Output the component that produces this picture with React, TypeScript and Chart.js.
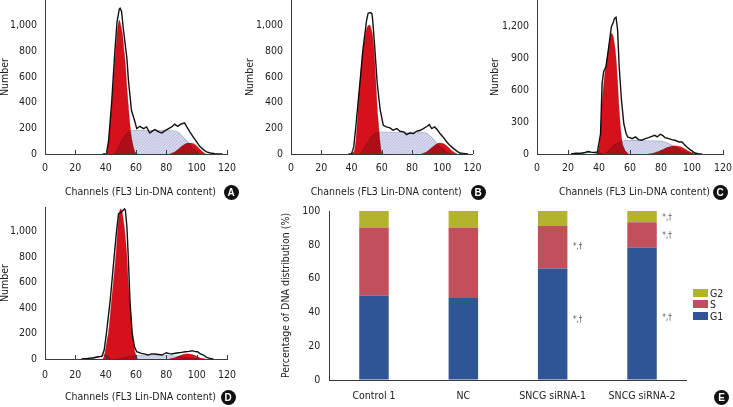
import React, { useEffect, useRef } from 'react';
import { Chart, registerables } from 'chart.js';

Chart.register(...registerables);

const FONT = "'DejaVu Sans Condensed', 'Liberation Sans Narrow', sans-serif";
const FS = 10.5;
const TEXT = '#222';
const AXIS = '#3a3a3a';
const RED = '#d5121b';
const BLUE = '#2f5597';
const ROSE = '#c0505c';
const OLIVE = '#b4b42c';

// ---------- Panel A (Control 1) ----------
const aLineCh = [38, 40.5, 42, 44, 46, 47.5, 49, 49.5, 50.5, 51.5, 54, 55, 57, 59, 60.5, 62.5, 65, 67, 69, 71, 72.5, 75, 77, 79, 81.5, 83.5, 85.5, 87.5, 89.5, 92, 93.5, 95.5, 98, 100, 102, 104.5, 106.5, 109, 112, 114.5, 117];
const aLineN = [0, 0, 110, 410, 790, 1030, 1130, 1136, 1110, 990, 745, 576, 341, 263, 198, 216, 198, 211, 164, 180, 190, 172, 164, 180, 198, 211, 232, 216, 232, 242, 211, 172, 128, 94, 60, 34, 16, 8, 3, 0, 0];
const aG1Ch = [40, 41, 42, 43, 44, 45, 46, 47, 48, 49, 50, 51, 52, 53, 54, 55, 56, 57, 58, 59, 60, 61];
const aG1N = [0, 15, 110, 240, 370, 540, 700, 860, 990, 1044, 1000, 940, 820, 700, 520, 370, 230, 130, 70, 25, 5, 0];
const aSCh = [46, 48, 50, 52, 54, 56, 58, 62, 66, 70, 74, 78, 82, 86, 88, 90, 92, 94, 96, 98, 100, 102];
const aSN = [0, 40, 90, 130, 160, 178, 184, 186, 184, 182, 182, 184, 184, 178, 168, 145, 120, 95, 62, 35, 13, 0];
const aG2Ch = [82, 84, 86, 88, 90, 92, 94, 96, 98, 100, 102, 104, 106];
const aG2N = [0, 8, 20, 38, 58, 75, 85, 86, 80, 62, 38, 15, 0];

// ---------- Panel B (NC) ----------
const bLineCh = [38, 40, 41.5, 43, 44.5, 46, 47.5, 49, 50, 51, 52.5, 53.5, 54, 55.5, 57, 59, 61, 63, 65.5, 67.5, 70, 72, 74.5, 76.5, 78.5, 81, 83, 85.5, 87.5, 90, 91.5, 93, 95, 97, 98.5, 100.5, 103, 105, 107.5, 109.5, 111.5, 115, 117];
const bLineN = [0, 0, 55, 230, 420, 610, 810, 950, 1044, 1097, 1102, 1093, 1044, 810, 550, 341, 224, 211, 203, 185, 198, 177, 172, 151, 164, 159, 177, 185, 198, 216, 229, 198, 211, 185, 159, 133, 94, 68, 42, 24, 8, 3, 0];
const bG1Ch = [40, 41, 42, 43, 44, 45, 46, 47, 48, 49, 50, 51, 52, 53, 54, 55, 56, 57, 58, 59, 60, 61];
const bG1N = [0, 10, 30, 110, 280, 470, 620, 740, 840, 920, 975, 1000, 1005, 975, 920, 790, 580, 360, 210, 80, 10, 0];
const bSCh = [46, 48, 50, 52, 54, 56, 58, 60, 66, 72, 78, 84, 88, 90, 92, 94, 96, 98, 100, 102, 104, 106];
const bSN = [0, 40, 80, 115, 145, 162, 170, 172, 170, 168, 170, 172, 168, 160, 140, 118, 90, 65, 42, 22, 6, 0];
const bG2Ch = [86, 88, 90, 92, 94, 96, 98, 100, 102, 104, 106, 108, 110];
const bG2N = [0, 8, 20, 38, 58, 76, 86, 84, 72, 52, 30, 12, 0];

// ---------- Panel C (SNCG siRNA-1) ----------
const cLineCh = [22, 25, 28, 31, 33, 35, 37, 39, 41, 42, 43, 44.5, 46, 48, 49, 50, 51, 52, 53, 54.5, 56, 57.5, 58.5, 61.5, 63.5, 65.5, 67.5, 70, 72, 74, 76, 77.5, 79.5, 81, 82.5, 85, 87, 89, 91.5, 93.5, 95.5, 98, 100, 102, 104, 106.5];
const cLineN = [0, 8, 6, 14, 24, 18, 14, 19, 192, 662, 771, 820, 975, 1194, 1225, 1272, 1282, 1163, 820, 504, 285, 192, 160, 144, 160, 135, 129, 144, 154, 166, 175, 160, 185, 175, 154, 144, 135, 129, 113, 113, 82, 50, 28, 9, 3, 0];
const cG1Ch = [38, 39, 40, 41, 42, 43, 44, 45, 46, 47, 48, 49, 50, 51, 52, 53, 54, 55, 56, 57, 58, 59];
const cG1N = [0, 15, 60, 200, 480, 650, 780, 880, 980, 1070, 1130, 1110, 1030, 900, 680, 420, 230, 110, 60, 30, 15, 0];
const cSCh = [44, 46, 48, 50, 52, 54, 56, 58, 62, 66, 70, 74, 78, 80, 84, 88, 92, 96, 100, 102];
const cSN = [0, 30, 60, 85, 105, 118, 125, 128, 128, 126, 124, 124, 124, 120, 105, 75, 40, 15, 3, 0];
const cG2Ch = [72, 74, 76, 78, 80, 82, 84, 86, 88, 90, 92, 94, 96, 98, 100, 102, 104];
const cG2N = [0, 5, 12, 22, 35, 48, 60, 70, 76, 76, 70, 58, 42, 25, 10, 2, 0];
const cDebCh = [22, 26, 30, 34, 37, 40, 42];
const cDebN = [0, 6, 10, 14, 12, 5, 0];

// ---------- Panel D (SNCG siRNA-2) ----------
const dLineCh = [24, 28, 32, 35, 37.5, 39, 40.5, 43, 45, 47, 48.5, 50.5, 51.5, 52.5, 53, 54, 55, 56, 57.5, 59, 60.5, 63.5, 66, 68, 70, 72.5, 75, 77, 80, 82, 83.5, 86, 88, 90, 92.5, 95, 97, 99, 100.5, 102, 104.5, 106.5, 109, 111];
const dLineN = [0, 4, 10, 18, 20, 70, 200, 461, 721, 982, 1138, 1151, 1164, 1175, 1164, 1034, 773, 461, 200, 96, 57, 44, 38, 31, 40, 39, 35, 31, 49, 42, 39, 45, 49, 52, 57, 60, 65, 58, 57, 44, 31, 13, 5, 0];
const dG1Ch = [38, 39, 40, 41, 42, 43, 44, 45, 46, 47, 48, 49, 50, 51, 52, 53, 54, 55, 56, 57, 58, 59, 60, 61];
const dG1N = [0, 20, 80, 150, 220, 340, 470, 590, 710, 850, 1020, 1140, 1175, 1140, 1060, 950, 800, 580, 420, 280, 150, 70, 30, 0];
const dSCh = [48, 52, 56, 60, 66, 72, 80, 86, 90, 94, 98, 102];
const dSN = [0, 10, 22, 28, 30, 30, 28, 24, 18, 10, 4, 0];
const dG2Ch = [82, 84, 86, 88, 90, 92, 94, 96, 98, 100, 102, 104, 106];
const dG2N = [0, 5, 12, 22, 32, 38, 40, 38, 32, 22, 10, 3, 0];
const dDebCh = [30, 33, 36, 39, 41, 43];
const dDebN = [0, 8, 18, 30, 20, 0];

// ---------- Panel E (stacked distribution) ----------
const groups = ['Control 1', 'NC', 'SNCG siRNA-1', 'SNCG siRNA-2'];
const g1Pct = [50, 48.5, 66, 78.3];
const sPct = [40.3, 41.8, 25.1, 15];
const g2Pct = [9.7, 9.7, 8.9, 6.7];
const markGroup = [2, 2, 3, 3, 3];
const markValue = [78.5, 35.5, 96, 85, 36.5];
const markText = '*,\u2020';

// ---------- tick labels ----------
const histXTicks = [0, 20, 40, 60, 80, 100, 120];
const countTicks = [0, 200, 400, 600, 800, 1000];
const countTicksC = [0, 300, 600, 900, 1200];
const pctTicks = [0, 20, 40, 60, 80, 100];

function pts(xs: number[], ys: number[]) {
  return xs.map((x, i) => ({ x, y: ys[i] }));
}

function makeHatch(ctx: CanvasRenderingContext2D) {
  const c = document.createElement('canvas');
  c.width = 3;
  c.height = 3;
  const g = c.getContext('2d')!;
  g.fillStyle = '#d6d8ee';
  g.fillRect(0, 0, 3, 3);
  g.fillStyle = '#bec2e0';
  g.fillRect(0, 2, 1, 1);
  g.fillRect(1, 1, 1, 1);
  g.fillRect(2, 0, 1, 1);
  return ctx.createPattern(c, 'repeat');
}

const multiplyPlugin = {
  id: 'multiplyFill',
  beforeDatasetsDraw(chart: any) {
    chart.ctx.save();
    chart.ctx.globalCompositeOperation = 'multiply';
  },
  afterDatasetsDraw(chart: any) {
    chart.ctx.restore();
  },
};

const innerTicksPlugin = {
  id: 'innerTicks',
  afterDraw(chart: any) {
    const { ctx, chartArea } = chart;
    const x = chart.scales.x;
    ctx.save();
    ctx.strokeStyle = AXIS;
    ctx.lineWidth = 1;
    x.ticks.forEach((t: any) => {
      if (t.value === 0) return;
      const px = Math.round(x.getPixelForValue(t.value)) + 0.5;
      ctx.beginPath();
      ctx.moveTo(px, chartArea.bottom);
      ctx.lineTo(px, chartArea.bottom - 4);
      ctx.stroke();
    });
    ctx.restore();
  },
};

type Series = [number[], number[]];
type HistCfg = {
  left: number; top: number; width: number; height: number;
  l: number; r: number; t: number; b: number;
  yMax: number; yTicks: number[];
  line: Series; g1: Series; s: Series; g2: Series; debris?: Series;
  xTickPad: number; xTitlePad: number;
};

const panels: HistCfg[] = [
  { left: 0, top: 0, width: 245, height: 200, l: 45, r: 227, t: 0, b: 154, yMax: 1200, yTicks: countTicks,
    line: [aLineCh, aLineN], g1: [aG1Ch, aG1N], s: [aSCh, aSN], g2: [aG2Ch, aG2N], xTickPad: 8, xTitlePad: 1 },
  { left: 245, top: 0, width: 245, height: 200, l: 46, r: 227.5, t: 0, b: 154, yMax: 1200, yTicks: countTicks,
    line: [bLineCh, bLineN], g1: [bG1Ch, bG1N], s: [bSCh, bSN], g2: [bG2Ch, bG2N], xTickPad: 8, xTitlePad: 1 },
  { left: 490, top: 0, width: 243, height: 200, l: 47, r: 233, t: 0, b: 154, yMax: 1444, yTicks: countTicksC,
    line: [cLineCh, cLineN], g1: [cG1Ch, cG1N], s: [cSCh, cSN], g2: [cG2Ch, cG2N], debris: [cDebCh, cDebN], xTickPad: 8, xTitlePad: 1 },
  { left: 0, top: 195, width: 245, height: 212, l: 45, r: 227, t: 12, b: 164, yMax: 1190, yTicks: countTicks,
    line: [dLineCh, dLineN], g1: [dG1Ch, dG1N], s: [dSCh, dSN], g2: [dG2Ch, dG2N], debris: [dDebCh, dDebN], xTickPad: 9.5, xTitlePad: 3 },
];

function HistPanel({ cfg }: { cfg: HistCfg }) {
  const ref = useRef<HTMLCanvasElement>(null);
  useEffect(() => {
    const canvas = ref.current!;
    const ctx = canvas.getContext('2d')!;
    const hatch = makeHatch(ctx);
    const font = { family: FONT, size: FS };
    const datasets: any[] = [
      { label: 'DNA', data: pts(cfg.line[0], cfg.line[1]), borderColor: '#111', borderWidth: 1.4, pointRadius: 0, fill: false, tension: 0 },
      { label: 'G1', data: pts(cfg.g1[0], cfg.g1[1]), borderColor: 'rgba(160,20,25,0.5)', borderWidth: 0.6, backgroundColor: RED, fill: 'origin', pointRadius: 0, cubicInterpolationMode: 'monotone' },
      { label: 'G2', data: pts(cfg.g2[0], cfg.g2[1]), borderColor: 'rgba(160,20,25,0.5)', borderWidth: 0.6, backgroundColor: RED, fill: 'origin', pointRadius: 0, cubicInterpolationMode: 'monotone' },
      { label: 'S', data: pts(cfg.s[0], cfg.s[1]), borderColor: '#c4c6d6', borderWidth: 0.8, backgroundColor: hatch, fill: 'origin', pointRadius: 0, cubicInterpolationMode: 'monotone' },
    ];
    if (cfg.debris) {
      datasets.push({ label: 'Debris', data: pts(cfg.debris[0], cfg.debris[1]), borderColor: '#3a9c8e', borderWidth: 1, pointRadius: 0, fill: false, cubicInterpolationMode: 'monotone' });
    }
    const chart = new Chart(canvas, {
      type: 'line',
      data: { datasets },
      options: {
        animation: false,
        responsive: false,
        maintainAspectRatio: false,
        events: [],
        layout: { padding: { left: 0, top: cfg.t, right: cfg.width - cfg.r, bottom: 0 } },
        plugins: { legend: { display: false }, tooltip: { enabled: false } },
        scales: {
          x: {
            type: 'linear', min: 0, max: 120,
            afterBuildTicks: (ax: any) => { ax.ticks = histXTicks.map((v) => ({ value: v })); },
            ticks: { font, color: TEXT, padding: cfg.xTickPad, maxRotation: 0, autoSkip: false },
            grid: { drawOnChartArea: false, drawTicks: false },
            border: { color: AXIS, width: 1 },
            title: { display: true, text: '   Channels (FL3 Lin-DNA content)', font, color: TEXT, padding: { top: 0, bottom: cfg.xTitlePad } },
            afterFit: (s: any) => { s.height = cfg.height - cfg.b; s.paddingLeft = 0; s.paddingRight = 0; },
          },
          y: {
            type: 'linear', min: 0, max: cfg.yMax,
            afterBuildTicks: (ax: any) => { ax.ticks = cfg.yTicks.map((v) => ({ value: v })); },
            ticks: { font, color: TEXT, padding: 8, autoSkip: false, callback: (v: any) => Number(v).toLocaleString('en-US') },
            grid: { drawOnChartArea: false, drawTicks: false },
            border: { color: AXIS, width: 1 },
            title: { display: true, text: 'Number', font, color: TEXT, padding: { top: -1.5, bottom: 0 } },
            afterFit: (s: any) => { s.width = cfg.l; s.paddingTop = 0; s.paddingBottom = 0; },
          },
        },
      } as any,
      plugins: [multiplyPlugin, innerTicksPlugin],
    });
    return () => chart.destroy();
  }, [cfg]);
  return (
    <canvas
      ref={ref}
      width={cfg.width}
      height={cfg.height}
      style={{ position: 'absolute', left: cfg.left, top: cfg.top, width: cfg.width, height: cfg.height }}
    />
  );
}

const markPlugin = {
  id: 'marks',
  afterDatasetsDraw(chart: any) {
    const { ctx } = chart;
    const x = chart.scales.x;
    const y = chart.scales.y;
    ctx.save();
    ctx.fillStyle = '#555';
    ctx.font = `8px ${FONT}`;
    ctx.textAlign = 'center';
    ctx.textBaseline = 'middle';
    markGroup.forEach((g, i) => {
      ctx.fillText(markText, x.getPixelForValue(g) + 25, y.getPixelForValue(markValue[i]));
    });
    ctx.restore();
  },
};

function BarPanel() {
  const ref = useRef<HTMLCanvasElement>(null);
  const W = 473;
  const H = 212;
  useEffect(() => {
    const font = { family: FONT, size: FS };
    const common = { barPercentage: 0.33, categoryPercentage: 1, borderWidth: 0 };
    const chart = new Chart(ref.current!, {
      type: 'bar',
      data: {
        labels: groups,
        datasets: [
          { label: 'G1', data: g1Pct, backgroundColor: BLUE, ...common },
          { label: 'S', data: sPct, backgroundColor: ROSE, ...common },
          { label: 'G2', data: g2Pct, backgroundColor: OLIVE, ...common },
        ],
      },
      options: {
        animation: false,
        responsive: false,
        maintainAspectRatio: false,
        events: [],
        layout: { padding: { left: 0, top: 16, right: W - 426.7, bottom: 0 } },
        plugins: { legend: { display: false }, tooltip: { enabled: false } },
        scales: {
          x: {
            stacked: true,
            ticks: { font, color: TEXT, padding: 9.5, maxRotation: 0, autoSkip: false },
            grid: { display: true, drawOnChartArea: false, drawTicks: false },
            border: { color: AXIS, width: 1 },
            afterFit: (s: any) => { s.height = H - 185; s.paddingLeft = 0; s.paddingRight = 0; },
          },
          y: {
            stacked: true, min: 0, max: 100,
            afterBuildTicks: (ax: any) => { ax.ticks = pctTicks.map((v) => ({ value: v })); },
            ticks: { font, color: TEXT, padding: 9 },
            grid: { display: true, drawOnChartArea: false, drawTicks: false },
            border: { color: AXIS, width: 1 },
            title: { display: true, text: 'Percentage of DNA distribution (%)', font, color: TEXT, padding: { top: 19.5, bottom: 0 } },
            afterFit: (s: any) => { s.width = 69.3; s.paddingTop = 0; s.paddingBottom = 0; },
          },
        },
      } as any,
      plugins: [markPlugin],
    });
    return () => chart.destroy();
  }, []);
  return (
    <canvas ref={ref} width={W} height={H} style={{ position: 'absolute', left: 260, top: 195, width: W, height: H }} />
  );
}

const legendItems = [
  { label: 'G2', color: OLIVE, y: 292.5 },
  { label: 'S', color: ROSE, y: 304 },
  { label: 'G1', color: BLUE, y: 315.8 },
];

const letters = [
  { t: 'A', x: 231, y: 192.5 },
  { t: 'B', x: 478, y: 192.5 },
  { t: 'C', x: 720, y: 192.5 },
  { t: 'D', x: 228, y: 397 },
  { t: 'E', x: 721.5, y: 397.5 },
];

export default function App() {
  return (
    <div style={{ position: 'fixed', left: 0, top: 0, width: 733, height: 407, background: '#fff', overflow: 'hidden', fontFamily: FONT }}>
      {panels.map((p, i) => (
        <HistPanel key={i} cfg={p} />
      ))}
      <BarPanel />
      {legendItems.map((it) => (
        <div key={it.label}>
          <div style={{ position: 'absolute', left: 692.5, top: it.y - 4, width: 15, height: 8, background: it.color }} />
          <div style={{ position: 'absolute', left: 710, top: it.y - 7, height: 14, lineHeight: '14px', fontSize: FS, color: TEXT }}>{it.label}</div>
        </div>
      ))}
      {letters.map((l) => (
        <div
          key={l.t}
          style={{
            position: 'absolute', left: l.x - 7.5, top: l.y - 7.5, width: 15, height: 15, borderRadius: '50%',
            background: '#111', color: '#fff', fontFamily: "'Liberation Sans', Arial, sans-serif", fontWeight: 700,
            fontSize: 10, lineHeight: '15px', textAlign: 'center',
          }}
        >
          {l.t}
        </div>
      ))}
    </div>
  );
}
